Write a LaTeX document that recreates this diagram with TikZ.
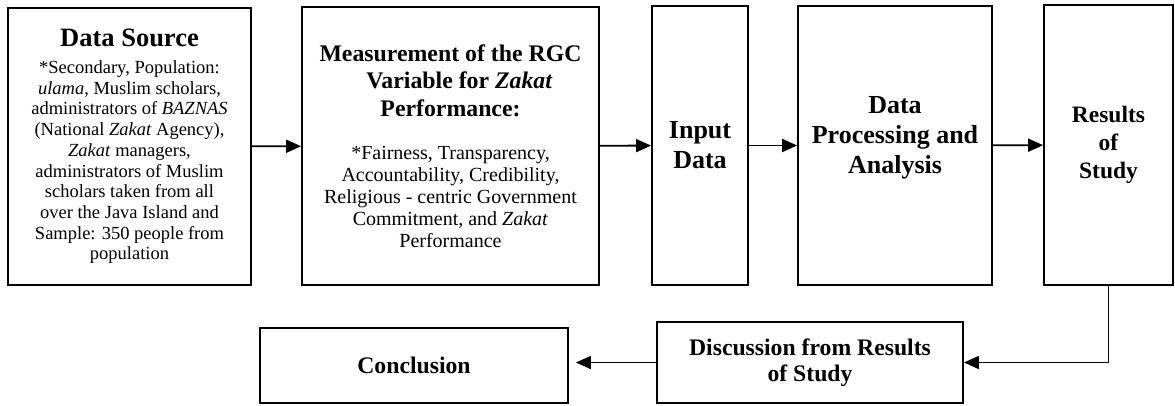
\documentclass[tikz,border=0pt]{standalone}
\usepackage{fontspec}
\setmainfont{Liberation Serif}
\usetikzlibrary{positioning,arrows.meta}
\newcommand{\srcfont}{\fontsize{18.5}{20.7}\selectfont}
\newcommand{\measfont}{\fontsize{20}{22}\selectfont}
\newcommand{\meastitle}{\fontsize{23.8}{27.5}\selectfont\bfseries}
\tikzset{
    flowbox/.style={draw, line width=1.8pt, align=center, inner sep=2pt},
    flowarrow/.style={draw, line width=1.8pt, -{Triangle[length=15pt, width=13pt]}},
    bigbold/.style={font=\fontsize{26}{30}\selectfont\bfseries},
    midbold/.style={font=\fontsize{23.7}{26}\selectfont\bfseries}
}

\begin{document}
\begin{tikzpicture}[x=1pt, y=-1pt]
    \useasboundingbox (0,0) rectangle (1175,405);
    % top row
    \node[flowbox, font=\srcfont, minimum width=243pt, minimum height=277pt] (src) at (129.5,146.5)
        {{\fontsize{26.5}{30}\selectfont\bfseries Data Source}\\[6pt]
         *Secondary, Population:\\
         \textit{ulama}, Muslim scholars,\\
         administrators of \textit{BAZNAS}\\
         (National \textit{Zakat} Agency),\\
         \textit{Zakat} managers,\\
         administrators of Muslim\\
         scholars taken from all\\
         over the Java Island and\\
         Sample: 350 people from\\
         population};
    \node[flowbox, font=\measfont, minimum width=297pt, minimum height=278pt] (meas) at (450.5,146)
        {{\meastitle Measurement of the RGC}\\[5.5pt]
         {\meastitle\hspace*{18pt}Variable for \textit{Zakat}}\\[5.5pt]
         {\meastitle Performance:}\\[20.6pt]
         *Fairness, Transparency,\\
         Accountability, Credibility,\\
         Religious - centric Government\\
         Commitment, and \textit{Zakat}\\
         Performance};
    \node[flowbox, bigbold, minimum width=96pt, minimum height=279pt] (input) at (700,145.5) {Input\\Data};
    \node[flowbox, minimum width=194pt, minimum height=279pt,
        label={[name=proctext, bigbold, align=center, yshift=8pt]center:Data\\Processing and\\Analysis}] (proc) at (895,145.5) {};
    \node[flowbox, font=\fontsize{23.5}{28}\selectfont\bfseries, minimum width=129pt, minimum height=280pt] (res) at (1108.5,145) {Results\\of\\Study};
    % bottom row
    \node[flowbox, midbold, minimum width=306pt, minimum height=81pt] (disc) at (810,362.5) {Discussion from Results\\of Study};
    \node[flowbox, midbold, minimum width=308pt, minimum height=75pt] (concl) at (414,365.5) {Conclusion};

    \draw[flowarrow] (src) -- (meas);
    \draw[flowarrow] (meas) -- (input);
    \draw[flowarrow] (input) -- (proc);
    \draw[flowarrow] (proc) -- (res);
    \draw[flowarrow] (res.south) |- (disc.east);
    \draw[flowarrow, shorten >=7pt] (disc.west) -- (disc.west -| concl.east);
\end{tikzpicture}
\end{document}
